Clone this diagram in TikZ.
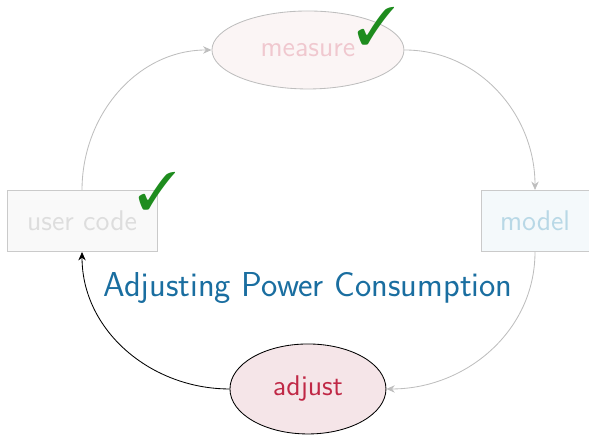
\documentclass[tikz,border=0pt]{standalone}
\usepackage{pifont}
\usetikzlibrary{shapes.geometric,arrows.meta}

\definecolor{titleblue}{RGB}{26,110,160}
\definecolor{adjustred}{RGB}{192,40,70}
\definecolor{adjustfill}{RGB}{245,229,232}
\definecolor{measurefill}{RGB}{251,245,245}
\definecolor{measuretext}{RGB}{240,200,207}
\definecolor{modelfill}{RGB}{244,249,251}
\definecolor{modeltext}{RGB}{184,216,230}
\definecolor{codefill}{RGB}{249,249,249}
\definecolor{codetext}{RGB}{221,221,221}
\definecolor{fadeline}{RGB}{190,190,190}
\definecolor{checkgreen}{RGB}{30,140,30}

\tikzset{
  phase/.style={ellipse, inner sep=0pt, font=\sffamily\fontsize{13.5}{16}\selectfont},
  stage/.style={rectangle, inner sep=0pt, minimum height=1.02cm, font=\sffamily\fontsize{13.5}{16}\selectfont},
  faded/.style={draw=fadeline, ->, >={Stealth[length=4pt,width=3.5pt]}},
  done/.style={text=checkgreen, inner sep=0pt, font=\fontsize{25}{28}\selectfont},
}

\begin{document}
\begin{tikzpicture}
  \useasboundingbox (0,0) rectangle (9.817,7.283);

  \node[phase, draw=fadeline, fill=measurefill, text=measuretext,
        minimum width=3.2cm, minimum height=1.3cm] (measure) at (5.133,6.45) {measure};
  \node[stage, draw=codetext!80!gray, fill=modelfill, text=modeltext,
        minimum width=1.8cm] (model) at (8.917,3.6) {model};
  \node[phase, draw=black, fill=adjustfill, text=adjustred,
        minimum width=2.6cm, minimum height=1.5cm] (adjust) at (5.133,0.8) {adjust};
  \node[stage, draw=codetext!80!gray, fill=codefill, text=codetext,
        minimum width=2.5cm] (code) at (1.367,3.6) {user code};

  \node[text=titleblue, font=\sffamily\fontsize{16.4}{20}\selectfont] (title) at (5.133,2.48) {Adjusting Power Consumption};

  \draw[faded] (code.north) to[out=90, in=180] (measure.west);
  \draw[faded] (measure.east) to[out=0, in=90] (model.north);
  \draw[faded] (model.south) to[out=-90, in=0] (adjust.east);
  \draw[->, >={Stealth[length=4pt,width=3.5pt]}] (adjust.west) to[out=180, in=-90] (code.south);

  % ticks for the finished steps
  \node[done] (tickmeasure) at (6.28,6.84) {\ding{51}};
  \node[done] (tickcode) at (2.63,4.1) {\ding{51}};
\end{tikzpicture}
\end{document}
